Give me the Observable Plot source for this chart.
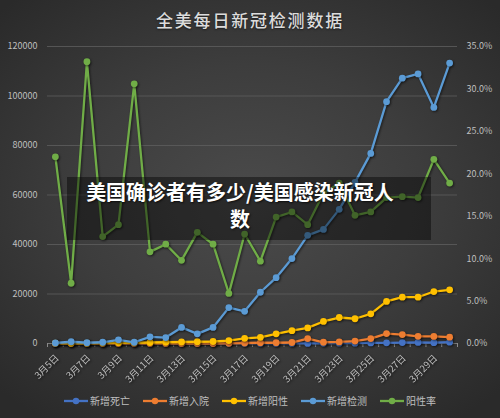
<!DOCTYPE html>
<html><head><meta charset="utf-8">
<script src="https://cdn.jsdelivr.net/npm/d3@7"></script>
<script src="https://cdn.jsdelivr.net/npm/@observablehq/plot@0.6"></script>
<style>
html,body{margin:0;padding:0;background:#2a2a2a;}
#wrap{position:relative;width:500px;height:418px;overflow:hidden;
  background:radial-gradient(ellipse 70% 65% at 50% 48%, #4b4b4b 0%, #3d3d3d 50%, #2a2a2a 100%);
  font-family:"Noto Sans CJK SC","Noto Sans",sans-serif;}
#title{position:absolute;left:0;top:7px;width:500px;text-align:center;color:#dcdcdc;font-size:17px;letter-spacing:1.8px;font-weight:500;text-shadow:0 1px 2px rgba(0,0,0,0.5);}
#chart{position:absolute;left:0;top:0;}
#chart svg{background:transparent;overflow:visible;}
#legend{position:absolute;left:0;top:393px;width:500px;display:flex;justify-content:center;gap:13px;color:#bfbfbf;font-size:10px;}
#legend .item{display:flex;align-items:center;gap:2px;}
#box{position:absolute;left:67px;top:177px;width:364px;height:63px;background:rgba(0,0,0,0.42);}
#boxtext{position:absolute;left:0;top:178px;width:480px;text-align:center;color:#fff;font-weight:bold;font-size:20px;line-height:27px;white-space:nowrap;text-shadow:1px 1px 2px rgba(0,0,0,0.7);}
</style></head>
<body>
<div id="wrap">
  <div id="chart"></div>
  <div id="title">全美每日新冠检测数据</div>
  <div id="legend"></div>
  <div id="box"></div>
  <div id="boxtext">美国确诊者有多少/美国感染新冠人<br>数</div>
</div>
<script>
const labels = ["3月5日","3月6日","3月7日","3月8日","3月9日","3月10日","3月11日","3月12日","3月13日","3月14日","3月15日","3月16日","3月17日","3月18日","3月19日","3月20日","3月21日","3月22日","3月23日","3月24日","3月25日","3月26日","3月27日","3月28日","3月29日","3月30日"];
const deaths   = [1,1,2,1,4,3,6,4,7,9,10,12,23,22,36,39,46,110,131,139,225,268,367,439,318,525];
const hospital = [0,0,0,0,0,0,0,0,0,0,0,100,200,300,300,400,2000,500,650,1000,2000,4000,3600,2900,2850,2550];
const positive = [100,100,100,200,300,300,400,500,600,700,800,1200,2100,2500,3900,5200,6300,8900,10500,10000,12000,17000,18700,18700,21000,21700];
const tests    = [200,700,300,500,1500,500,2700,2400,6500,3900,6500,14500,13000,20700,26600,34300,43700,46100,54200,65100,76800,97700,107200,108900,95400,113300];
const rate     = [22.0,7.1,33.2,12.6,14.0,30.6,10.8,11.7,9.8,13.1,11.7,5.9,12.9,9.7,14.9,15.5,14.0,17.7,18.9,15.1,15.5,17.2,17.3,17.2,21.7,18.9];
const leftTicks  = [0,20000,40000,60000,80000,100000,120000];
const rightTicks = [0,5,10,15,20,25,30,35];
const seriesNames = ["新增死亡","新增入院","新增阳性","新增检测","阳性率"];
const colors = ["#4472C4","#ED7D31","#FFC000","#5B9BD5","#70AD47"];

const yMax = 120000, rMax = 35;
const toLeft = p => p / rMax * yMax;
const seriesVals = [deaths, hospital, positive, tests, rate.map(toLeft)];
const rows = seriesVals.flatMap((vals, s) => vals.map((v, i) => ({s, i, v})));
const bounds = d3.range(0, labels.length + 1).map(i => i - 0.5);
const labelIdx = d3.range(0, labels.length, 2);

const marks = [
  Plot.ruleY(leftTicks.slice(1), {stroke:"#5e5e5e", strokeWidth:0.8}),
  Plot.ruleY([0], {stroke:"#8a8a8a", strokeWidth:0.8}),
  Plot.axisX(bounds, {anchor:"bottom", tickSize:4, stroke:"#8a8a8a", tickFormat: () => "", label:null}),
  Plot.text(labelIdx, {x: d => d, y: () => 0, text: i => labels[i], rotate:-45, textAnchor:"end", lineAnchor:"middle", dx:2, dy:13, fill:"#bfbfbf", fontSize:9.5}),
  Plot.axisY(leftTicks, {anchor:"left", tickSize:0, tickPadding:10, fill:"#bfbfbf", fontSize:9, label:null, tickFormat: d => String(d)}),
  Plot.axisY(rightTicks.map(toLeft), {anchor:"right", tickSize:0, tickPadding:9, fill:"#bfbfbf", fontSize:9, label:null, tickFormat: d => (d / yMax * rMax).toFixed(1) + "%"})
];
for (let s = 0; s < seriesVals.length; s++) {
  const data = rows.filter(d => d.s === s);
  marks.push(Plot.line(data, {x:"i", y:"v", stroke:colors[s], strokeWidth:2.3}));
  marks.push(Plot.dot(data, {x:"i", y:"v", fill:colors[s], r:3.4}));
}

const chart = Plot.plot({
  width:500, height:418,
  marginTop:46, marginBottom:75, marginLeft:47, marginRight:43,
  x:{domain:[-0.5, labels.length - 0.5], axis:null, label:null},
  y:{domain:[0, yMax], axis:null, label:null},
  style:{background:"transparent", fontFamily:"'Noto Sans CJK SC','Noto Sans',sans-serif"},
  marks
});
document.getElementById("chart").appendChild(chart);
d3.select(chart).selectAll('g[aria-label="line"], g[aria-label="dot"]').style("filter", "drop-shadow(1px 1.5px 1.2px rgba(0,0,0,0.55))");
d3.select(chart).selectAll('g[aria-label="text"]').style("filter", "drop-shadow(1px 1px 1px rgba(0,0,0,0.6))");

const legend = document.getElementById("legend");
seriesNames.forEach((name, s) => {
  const item = document.createElement("div");
  item.className = "item";
  item.innerHTML = `<svg width="24" height="8"><line x1="0" y1="4" x2="24" y2="4" stroke="${colors[s]}" stroke-width="2.3"/><circle cx="12" cy="4" r="3.2" fill="${colors[s]}"/></svg><span>${name}</span>`;
  legend.appendChild(item);
});
</script>
</body></html>
